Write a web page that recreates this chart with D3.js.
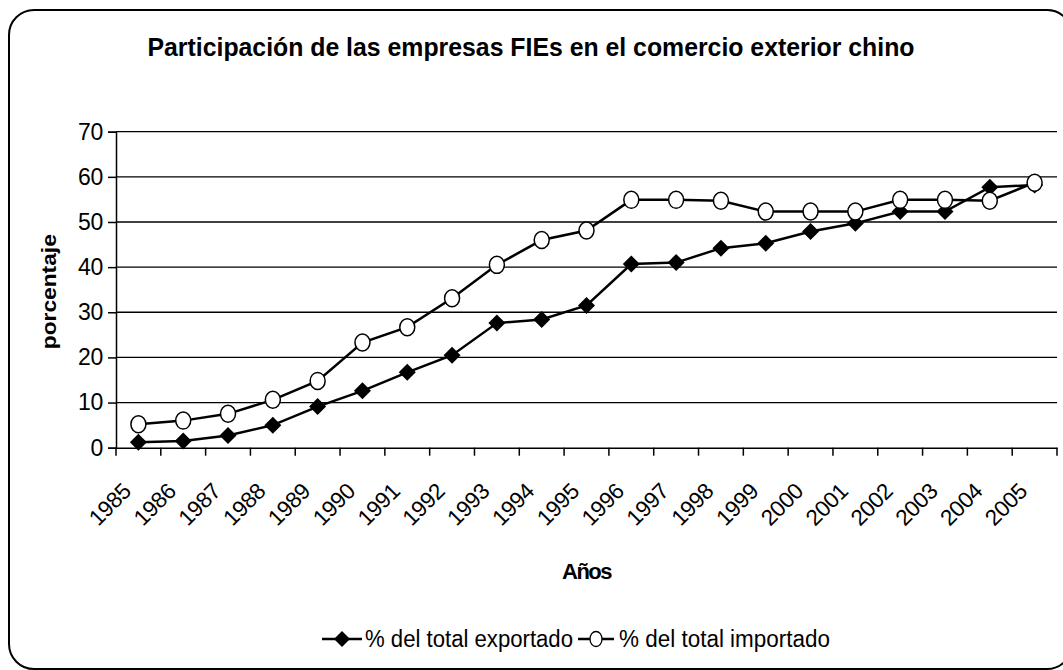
<!DOCTYPE html>
<html><head><meta charset="utf-8">
<script src="https://cdn.jsdelivr.net/npm/d3@7"></script>
<style>body{margin:0;background:#fff} svg{display:block}</style>
</head><body><svg id="c" width="1063" height="670"></svg>
<script>
const years = ["1985","1986","1987","1988","1989","1990","1991","1992","1993","1994","1995","1996","1997","1998","1999","2000","2001","2002","2003","2004","2005"];
const exportado = [1.2,1.5,2.7,5.0,9.1,12.6,16.7,20.5,27.6,28.4,31.5,40.7,41.0,44.2,45.3,47.9,49.7,52.3,52.3,57.7,58.2];
const importado = [5.2,6.0,7.5,10.6,14.8,23.3,26.7,33.1,40.5,46.0,48.1,54.9,54.9,54.7,52.3,52.3,52.3,54.9,54.9,54.7,58.7];
const yTicks = [0,10,20,30,40,50,60,70];
const titleText = "Participación de las empresas FIEs en el comercio exterior chino";
const yTitle = "porcentaje";
const xTitle = "Años";
const seriesNames = ["% del total exportado","% del total importado"];

const svg = d3.select("#c");
const L = 116, R = 1057, T = 131.7, B = 447.7;
const x = d3.scaleBand().domain(years).range([L, R]);
const y = d3.scaleLinear().domain([0, 70]).range([B, T]);
const font = "'Liberation Sans', Arial, sans-serif";

// border
svg.append("rect").attr("x", 9).attr("y", 10).attr("width", 1063).attr("height", 659)
  .attr("rx", 25).attr("fill", "none").attr("stroke", "#000").attr("stroke-width", 2);

// title
svg.append("text").attr("x", 531).attr("y", 56).attr("text-anchor", "middle")
  .attr("font-family", font).attr("font-weight", "bold").attr("font-size", 25)
  .attr("textLength", 767).attr("lengthAdjust", "spacingAndGlyphs").text(titleText);

// gridlines
svg.append("g").selectAll("line").data(yTicks.filter(d => d > 0)).join("line")
  .attr("x1", L).attr("x2", R).attr("y1", d => y(d)).attr("y2", d => y(d))
  .attr("stroke", "#000").attr("stroke-width", 1.3);

// y axis
const yAxis = svg.append("g").attr("transform", `translate(${L},0)`)
  .call(d3.axisLeft(y).tickValues(yTicks).tickSize(8).tickPadding(5));
yAxis.select(".domain").attr("stroke", "#000").attr("stroke-width", 1.5);
yAxis.selectAll(".tick line").attr("stroke", "#000").attr("stroke-width", 1.5);
yAxis.selectAll(".tick text").attr("font-family", font).attr("font-size", 23)
  .attr("letter-spacing", -0.3).attr("fill", "#000");

// x axis
const xAxis = svg.append("g").attr("transform", `translate(0,${B})`)
  .call(d3.axisBottom(x).tickSize(0).tickFormat(""));
xAxis.select(".domain").attr("stroke", "#000").attr("stroke-width", 1.5);
const bounds = years.map(d => x(d)).concat([R]);
svg.append("g").selectAll("line").data(bounds).join("line")
  .attr("x1", d => d).attr("x2", d => d).attr("y1", B).attr("y2", B + 8)
  .attr("stroke", "#000").attr("stroke-width", 1.5);
svg.append("g").selectAll("text").data(years).join("text")
  .attr("transform", d => `translate(${x(d) + x.bandwidth() / 2 - 6},${B + 45}) rotate(-45)`)
  .attr("text-anchor", "end").attr("font-family", font).attr("font-size", 22.5)
  .attr("letter-spacing", -0.4).text(d => d);

// axis titles
svg.append("text").attr("transform", `translate(56,${(T + B) / 2 + 2}) rotate(-90)`)
  .attr("text-anchor", "middle").attr("font-family", font).attr("font-weight", "bold")
  .attr("font-size", 21).attr("textLength", 115).attr("lengthAdjust", "spacingAndGlyphs").text(yTitle);
svg.append("text").attr("x", (L + R) / 2).attr("y", 579).attr("text-anchor", "middle")
  .attr("font-family", font).attr("font-weight", "bold").attr("font-size", 22)
  .attr("letter-spacing", -1.5).text(xTitle);

// lines
const cx = d => x(d) + x.bandwidth() / 2;
const line = d3.line().x((d, i) => cx(years[i])).y(d => y(d));
svg.append("path").datum(exportado).attr("d", line).attr("fill", "none")
  .attr("stroke", "#000").attr("stroke-width", 2.5);
svg.append("path").datum(importado).attr("d", line).attr("fill", "none")
  .attr("stroke", "#000").attr("stroke-width", 2.5);

const diamond = (g, px, py, s) => g.append("path")
  .attr("d", `M${px},${py - s}L${px + s},${py}L${px},${py + s}L${px - s},${py}Z`)
  .attr("fill", "#000");
const gE = svg.append("g");
exportado.forEach((v, i) => diamond(gE, cx(years[i]), y(v), 8.5));
svg.append("g").selectAll("ellipse").data(importado).join("ellipse")
  .attr("cx", (d, i) => cx(years[i])).attr("cy", d => y(d)).attr("rx", 7.5).attr("ry", 8.5)
  .attr("fill", "#fff").attr("stroke", "#000").attr("stroke-width", 1.5);

// legend
const ly = 639;
const lg = svg.append("g");
lg.append("line").attr("x1", 322).attr("x2", 362).attr("y1", ly).attr("y2", ly).attr("stroke", "#000").attr("stroke-width", 2.5);
diamond(lg, 342, ly, 8);
lg.append("text").attr("x", 365).attr("y", ly + 8).attr("font-family", font).attr("font-size", 23)
  .attr("textLength", 208).attr("lengthAdjust", "spacingAndGlyphs").text(seriesNames[0]);
lg.append("line").attr("x1", 578).attr("x2", 614).attr("y1", ly).attr("y2", ly).attr("stroke", "#000").attr("stroke-width", 2.5);
lg.append("ellipse").attr("cx", 596).attr("cy", ly).attr("rx", 6).attr("ry", 7.5)
  .attr("fill", "#fff").attr("stroke", "#000").attr("stroke-width", 1.3);
lg.append("text").attr("x", 619).attr("y", ly + 8).attr("font-family", font).attr("font-size", 23)
  .attr("textLength", 211).attr("lengthAdjust", "spacingAndGlyphs").text(seriesNames[1]);
</script></body></html>
